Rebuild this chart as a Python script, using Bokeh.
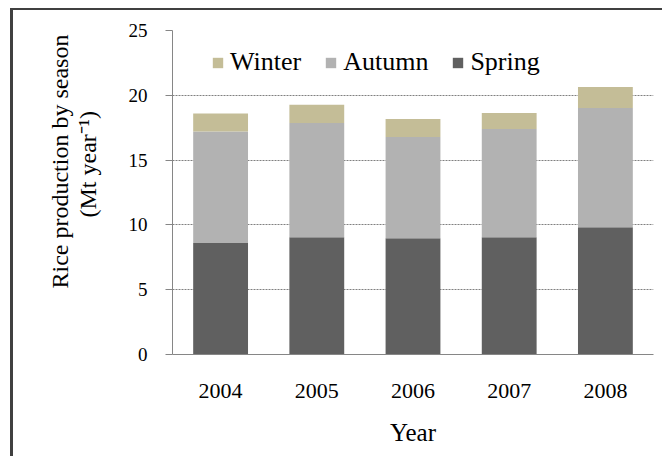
from bokeh.plotting import figure
from bokeh.models import ColumnDataSource, Legend, LegendItem, Title, Div
from bokeh.layouts import column, row
from bokeh.embed import file_html
from bokeh.resources import INLINE

years = ["2004", "2005", "2006", "2007", "2008"]
spring = [8.6, 9.05, 8.97, 9.05, 9.82]
autumn = [8.6, 8.81, 7.81, 8.35, 9.2]
winter = [1.39, 1.41, 1.39, 1.23, 1.62]
seasons = ["Spring", "Autumn", "Winter"]
colors = ["#606060", "#b2b2b2", "#c4bd97"]
y_ticks = [0, 5, 10, 15, 20, 25]

FONT = "Liberation Serif"

source = ColumnDataSource(data=dict(year=years, Spring=spring, Autumn=autumn, Winter=winter))

p = figure(x_range=years, y_range=(0, 25), width=649, height=446,
           output_backend="svg", toolbar_location=None,
           min_border_left=159, min_border_right=9, min_border_top=20, min_border_bottom=102)
p.x_range.range_padding = 0
p.outline_line_color = None
p.background_fill_color = "white"

renderers = p.vbar_stack(seasons, x="year", width=0.57, color=colors, source=source, line_color=None)

# grid
p.xgrid.grid_line_color = None
p.ygrid.grid_line_color = "#808080"
p.ygrid.grid_line_dash = "2 1"
p.ygrid.grid_line_width = 1
p.yaxis.ticker = y_ticks

# y axis
p.yaxis.axis_line_color = "#868686"
p.yaxis.major_tick_line_color = "#868686"
p.yaxis.major_tick_out = 7
p.yaxis.major_tick_in = 0
p.yaxis.minor_tick_line_color = None
p.yaxis.major_label_text_font = FONT
p.yaxis.major_label_text_font_size = "19px"
p.yaxis.major_label_text_color = "black"
p.yaxis.major_label_standoff = 18

# x axis
p.xaxis.axis_line_color = "#868686"
p.xaxis.major_tick_line_color = None
p.xaxis.major_tick_out = 0
p.xaxis.major_tick_in = 0
p.xaxis.minor_tick_line_color = None
p.xaxis.major_label_text_font = FONT
p.xaxis.major_label_text_font_size = "22px"
p.xaxis.major_label_text_color = "black"
p.xaxis.major_label_standoff = 29
p.xaxis.axis_label = "Year"
p.xaxis.axis_label_text_font = FONT
p.xaxis.axis_label_text_font_size = "25px"
p.xaxis.axis_label_text_font_style = "normal"
p.xaxis.axis_label_text_color = "black"
p.xaxis.axis_label_standoff = 18

# y axis title as two rotated lines (inner line first)
for txt, off, so in [("(Mt year\u207b\u00b9)", 137, 50), ("Rice production by season", 66, -50)]:
    p.add_layout(Title(text=txt, align="left", offset=off, text_font=FONT,
                       text_font_size="24px", text_font_style="normal",
                       text_color="black", standoff=so), "left")

legend = Legend(items=[LegendItem(label="Winter", renderers=[renderers[2]]),
                       LegendItem(label="Autumn", renderers=[renderers[1]]),
                       LegendItem(label="Spring", renderers=[renderers[0]])],
                orientation="horizontal", location=(39, 277))
legend.label_text_font = FONT
legend.label_text_font_size = "26px"
legend.label_text_color = "black"
legend.glyph_width = 13
legend.glyph_height = 13
legend.label_standoff = 6
legend.spacing = 23
legend.padding = 0
legend.margin = 0
legend.border_line_color = None
legend.background_fill_alpha = 0
p.add_layout(legend)

# picture frame: dark top and left edges
top_bar = Div(text="", width=652, height=2, margin=(8, 0, 0, 10),
              styles={"background-color": "#404040"})
left_bar = Div(text="", width=3, height=446, margin=(0, 0, 0, 10),
               styles={"background-color": "#404040"})
layout = column(top_bar, row(left_bar, p, spacing=0), spacing=0)

open("out.html", "w").write(file_html(layout, INLINE))
